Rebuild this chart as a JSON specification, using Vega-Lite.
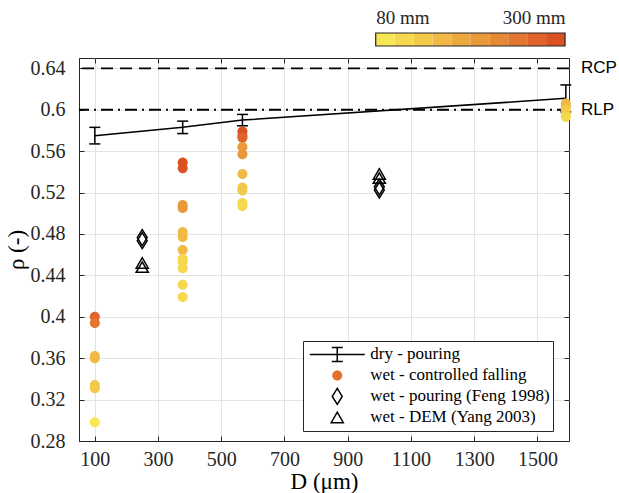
{
  "$schema": "https://vega.github.io/schema/vega-lite/v6.json",
  "autosize": {"type": "pad"},
  "padding": {"left": 4, "top": 8, "right": 2, "bottom": 0},
  "background": "white",
  "spacing": 12,
  "bounds": "flush",
  "config": {
    "view": {"stroke": "#262626", "strokeWidth": 1},
    "axis": {
      "labelFont": "Liberation Serif, Times New Roman, DejaVu Serif, serif",
      "labelFontSize": 20,
      "labelColor": "#262626",
      "domainColor": "#262626",
      "tickColor": "#262626",
      "gridColor": "#e3e3e3",
      "titleFont": "Liberation Serif, Times New Roman, DejaVu Serif, serif",
      "titleFontSize": 23,
      "titleFontWeight": "normal",
      "titleColor": "#000000"
    }
  },
  "resolve": {
    "scale": {"x": "independent", "y": "independent", "color": "shared"},
    "legend": {"shape": "independent", "color": "independent"}
  },
  "datasets": {
    "bins": [
      {"h0": 80, "h1": 102, "hm": 91},
      {"h0": 102, "h1": 124, "hm": 113},
      {"h0": 124, "h1": 146, "hm": 135},
      {"h0": 146, "h1": 168, "hm": 157},
      {"h0": 168, "h1": 190, "hm": 179},
      {"h0": 190, "h1": 212, "hm": 201},
      {"h0": 212, "h1": 234, "hm": 223},
      {"h0": 234, "h1": 256, "hm": 245},
      {"h0": 256, "h1": 278, "hm": 267},
      {"h0": 278, "h1": 300, "hm": 289}
    ],
    "dry": [
      {"D": 100, "rho": 0.575, "lo": 0.567, "hi": 0.583},
      {"D": 378, "rho": 0.583, "lo": 0.577, "hi": 0.589},
      {"D": 567, "rho": 0.590, "lo": 0.5845, "hi": 0.5955},
      {"D": 1590, "rho": 0.611, "lo": 0.598, "hi": 0.624}
    ],
    "wet": [
      {"D": 100, "rho": 0.400, "h": 262, "series": "wet - controlled falling"},
      {"D": 100, "rho": 0.394, "h": 250, "series": "wet - controlled falling"},
      {"D": 100, "rho": 0.362, "h": 157, "series": "wet - controlled falling"},
      {"D": 100, "rho": 0.360, "h": 157, "series": "wet - controlled falling"},
      {"D": 100, "rho": 0.334, "h": 135, "series": "wet - controlled falling"},
      {"D": 100, "rho": 0.331, "h": 135, "series": "wet - controlled falling"},
      {"D": 100, "rho": 0.298, "h": 91, "series": "wet - controlled falling"},
      {"D": 378, "rho": 0.549, "h": 289, "series": "wet - controlled falling"},
      {"D": 378, "rho": 0.5435, "h": 289, "series": "wet - controlled falling"},
      {"D": 378, "rho": 0.508, "h": 201, "series": "wet - controlled falling"},
      {"D": 378, "rho": 0.505, "h": 201, "series": "wet - controlled falling"},
      {"D": 378, "rho": 0.482, "h": 157, "series": "wet - controlled falling"},
      {"D": 378, "rho": 0.477, "h": 157, "series": "wet - controlled falling"},
      {"D": 378, "rho": 0.4645, "h": 157, "series": "wet - controlled falling"},
      {"D": 378, "rho": 0.456, "h": 113, "series": "wet - controlled falling"},
      {"D": 378, "rho": 0.453, "h": 113, "series": "wet - controlled falling"},
      {"D": 378, "rho": 0.447, "h": 113, "series": "wet - controlled falling"},
      {"D": 378, "rho": 0.431, "h": 113, "series": "wet - controlled falling"},
      {"D": 378, "rho": 0.419, "h": 113, "series": "wet - controlled falling"},
      {"D": 567, "rho": 0.579, "h": 289, "series": "wet - controlled falling"},
      {"D": 567, "rho": 0.575, "h": 289, "series": "wet - controlled falling"},
      {"D": 567, "rho": 0.573, "h": 270, "series": "wet - controlled falling"},
      {"D": 567, "rho": 0.564, "h": 201, "series": "wet - controlled falling"},
      {"D": 567, "rho": 0.557, "h": 201, "series": "wet - controlled falling"},
      {"D": 567, "rho": 0.538, "h": 157, "series": "wet - controlled falling"},
      {"D": 567, "rho": 0.525, "h": 140, "series": "wet - controlled falling"},
      {"D": 567, "rho": 0.522, "h": 140, "series": "wet - controlled falling"},
      {"D": 567, "rho": 0.510, "h": 113, "series": "wet - controlled falling"},
      {"D": 567, "rho": 0.507, "h": 113, "series": "wet - controlled falling"},
      {"D": 1590, "rho": 0.606, "h": 157, "series": "wet - controlled falling"},
      {"D": 1590, "rho": 0.603, "h": 157, "series": "wet - controlled falling"},
      {"D": 1590, "rho": 0.600, "h": 140, "series": "wet - controlled falling"},
      {"D": 1590, "rho": 0.596, "h": 135, "series": "wet - controlled falling"},
      {"D": 1590, "rho": 0.593, "h": 113, "series": "wet - controlled falling"}
    ],
    "lit": [
      {"D": 250, "rho": 0.4765, "series": "wet - pouring (Feng 1998)"},
      {"D": 250, "rho": 0.4735, "series": "wet - pouring (Feng 1998)"},
      {"D": 1000, "rho": 0.5255, "series": "wet - pouring (Feng 1998)"},
      {"D": 1000, "rho": 0.5225, "series": "wet - pouring (Feng 1998)"},
      {"D": 250, "rho": 0.452, "series": "wet - DEM (Yang 2003)"},
      {"D": 250, "rho": 0.448, "series": "wet - DEM (Yang 2003)"},
      {"D": 1000, "rho": 0.538, "series": "wet - DEM (Yang 2003)"},
      {"D": 1000, "rho": 0.534, "series": "wet - DEM (Yang 2003)"}
    ],
    "refs": [
      {"rho": 0.64, "label": "RCP"},
      {"rho": 0.6, "label": "RLP"}
    ]
  },
  "vconcat": [
    {
      "width": 490,
      "height": 13,
      "view": {"stroke": null},
      "data": {"name": "bins"},
      "layer": [
        {
          "mark": {"type": "rect", "strokeWidth": 0},
          "encoding": {
            "x": {
              "field": "h0", "type": "quantitative",
              "scale": {"domain": [-264.8, 304.6], "nice": false, "zero": false},
              "axis": {
                "orient": "top", "values": [80, 300], "labelExpr": "datum.value + ' mm'",
                "domain": false, "ticks": false, "grid": false, "title": null,
                "labelPadding": 10, "labelBaseline": "alphabetic", "labelFontSize": 19,
                "labelAlign": {"condition": {"test": "datum.value < 100", "value": "left"}, "value": "right"}
              }
            },
            "x2": {"field": "h1"},
            "color": {
              "field": "hm", "type": "quantitative",
              "scale": {
                "type": "quantize", "domain": [80, 300], "nice": false, "zero": false,
                "range": ["#f7e752", "#f5d84e", "#f2c94a", "#efb944", "#eca93f", "#e9993a", "#e68935", "#e37630", "#df632a", "#db5222"]
              },
              "legend": null
            }
          }
        },
        {
          "transform": [{"aggregate": [{"op": "min", "field": "h0", "as": "h0"}, {"op": "max", "field": "h1", "as": "h1"}]}],
          "mark": {"type": "rect", "filled": false, "stroke": "#262626", "strokeWidth": 1.2},
          "encoding": {
            "x": {"field": "h0", "type": "quantitative"},
            "x2": {"field": "h1"}
          }
        }
      ]
    },
    {
      "width": 490,
      "height": 383,
      "resolve": {"axis": {"x": "independent", "y": "independent"}},
      "layer": [
        {
          "layer": [
            {
              "data": {"name": "dry"},
              "mark": {"type": "line", "color": "black", "strokeWidth": 1.5},
              "encoding": {
                "x": {
                  "field": "D", "type": "quantitative",
                  "scale": {"domain": [50, 1600], "nice": false, "zero": false},
                  "axis": {
                    "values": [100, 300, 500, 700, 900, 1100, 1300, 1500],
                    "format": "d", "title": "D (μm)", "grid": true,
                    "tickSize": -5, "labelPadding": 13, "titlePadding": 1
                  }
                },
                "y": {
                  "field": "rho", "type": "quantitative",
                  "scale": {"domain": [0.28, 0.65], "nice": false, "zero": false},
                  "axis": {
                    "values": [0.28, 0.32, 0.36, 0.4, 0.44, 0.48, 0.52, 0.56, 0.6, 0.64],
                    "format": "~g", "title": "ρ (-)", "grid": true,
                    "tickSize": -5, "labelPadding": 19, "titlePadding": 2
                  }
                }
              }
            },
            {
              "data": {"name": "refs"},
              "transform": [{"filter": "datum.label === 'RCP'"}],
              "mark": {"type": "rule", "color": "black", "strokeWidth": 1.8, "strokeDash": [12, 7]},
              "encoding": {"y": {"field": "rho", "type": "quantitative"}}
            },
            {
              "data": {"name": "refs"},
              "transform": [{"filter": "datum.label === 'RLP'"}],
              "mark": {"type": "rule", "color": "black", "strokeWidth": 1.8, "strokeDash": [12, 5, 2, 5]},
              "encoding": {"y": {"field": "rho", "type": "quantitative"}}
            },
            {
              "data": {"name": "refs"},
              "mark": {"type": "text", "align": "left", "baseline": "middle", "dx": 12, "font": "Liberation Sans, Arial, sans-serif", "fontSize": 17, "color": "black", "clip": false},
              "encoding": {
                "x": {"datum": 1600, "type": "quantitative"},
                "y": {"field": "rho", "type": "quantitative"},
                "text": {"field": "label"}
              }
            },
            {
              "data": {"name": "dry"},
              "mark": {"type": "rule", "color": "black", "strokeWidth": 1.5},
              "encoding": {
                "x": {"field": "D", "type": "quantitative"},
                "y": {"field": "lo", "type": "quantitative"},
                "y2": {"field": "hi"}
              }
            },
            {
              "data": {"name": "dry"},
              "mark": {"type": "tick", "orient": "horizontal", "color": "black", "size": 11, "thickness": 1.5, "opacity": 1},
              "encoding": {
                "x": {"field": "D", "type": "quantitative"},
                "y": {"field": "lo", "type": "quantitative"}
              }
            },
            {
              "data": {"name": "dry"},
              "mark": {"type": "tick", "orient": "horizontal", "color": "black", "size": 11, "thickness": 1.5, "opacity": 1},
              "encoding": {
                "x": {"field": "D", "type": "quantitative"},
                "y": {"field": "hi", "type": "quantitative"}
              }
            },
            {
              "data": {"name": "wet"},
              "mark": {"type": "point", "filled": true, "opacity": 1, "size": 3025, "strokeWidth": 0},
              "encoding": {
                "x": {"field": "D", "type": "quantitative"},
                "y": {"field": "rho", "type": "quantitative"},
                "color": {
                  "field": "h", "type": "quantitative",
                  "scale": {
                    "type": "quantize", "domain": [80, 300], "nice": false, "zero": false,
                    "range": ["#f7e752", "#f5d84e", "#f2c94a", "#efb944", "#eca93f", "#e9993a", "#e68935", "#e37630", "#df632a", "#db5222"]
                  },
                  "legend": null
                },
                "shape": {
                  "field": "series", "type": "nominal",
                  "scale": {
                    "domain": ["dry - pouring", "wet - controlled falling", "wet - pouring (Feng 1998)", "wet - DEM (Yang 2003)"],
                    "range": [
                      "M-1,0H1M0,-0.255V0.255M-0.2,-0.255H0.2M-0.2,0.255H0.2",
                      "M0.182,0A0.182,0.182,0,1,1,-0.182,0A0.182,0.182,0,1,1,0.182,0Z",
                      "M0,-0.29L0.18,0L0,0.29L-0.18,0Z",
                      "M0,-0.19L0.22,0.19L-0.22,0.19Z"
                    ]
                  },
                  "legend": {
                    "orient": "none", "legendX": 224, "legendY": 283, "title": null,
                    "symbolSize": 3025, "symbolStrokeWidth": 1.5, "clipHeight": 20.8,
                    "rowPadding": 0, "padding": 3, "symbolOffset": 2.75, "labelOffset": 4.5,
                    "labelLimit": 400,
                    "labelFont": "Liberation Serif, Times New Roman, DejaVu Serif, serif", "labelFontSize": 17, "labelColor": "#000000",
                    "strokeColor": "#262626", "fillColor": "white",
                    "encoding": {
                      "symbols": {
                        "fill": {"value": {"expr": "datum.value === 'wet - controlled falling' ? '#e4702b' : 'transparent'"}},
                        "stroke": {"value": {"expr": "datum.value === 'wet - controlled falling' ? 'transparent' : '#000000'"}},
                        "strokeWidth": {"value": 1.5},
                        "opacity": {"value": 1}
                      }
                    }
                  }
                }
              }
            },
            {
              "data": {"name": "lit"},
              "mark": {"type": "point", "filled": false, "opacity": 1, "size": 3025, "stroke": "black", "strokeWidth": 1.5},
              "encoding": {
                "x": {"field": "D", "type": "quantitative"},
                "y": {"field": "rho", "type": "quantitative"},
                "shape": {"field": "series", "type": "nominal"}
              }
            }
          ]
        },
        {
          "data": {"name": "dry"},
          "mark": {"type": "point", "opacity": 0},
          "encoding": {
            "x": {
              "field": "D", "type": "quantitative",
              "axis": {"orient": "top", "values": [100, 300, 500, 700, 900, 1100, 1300, 1500], "labels": false, "grid": false, "domain": false, "title": null, "tickSize": -5}
            },
            "y": {
              "field": "rho", "type": "quantitative",
              "axis": {"orient": "right", "values": [0.28, 0.32, 0.36, 0.4, 0.44, 0.48, 0.52, 0.56, 0.6, 0.64], "labels": false, "grid": false, "domain": false, "title": null, "tickSize": -5}
            }
          }
        }
      ]
    }
  ]
}
